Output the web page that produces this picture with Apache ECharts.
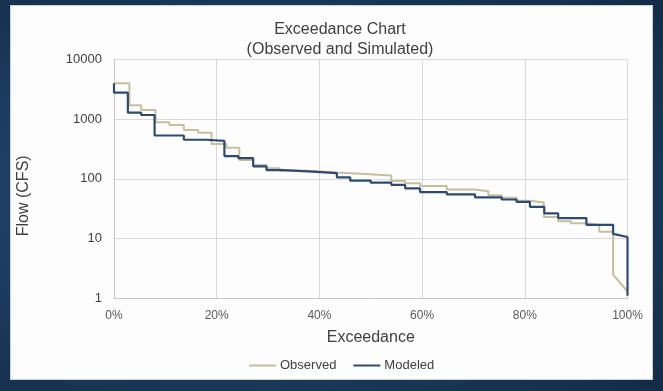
<!DOCTYPE html>
<html>
<head>
<meta charset="utf-8">
<script src="https://cdn.jsdelivr.net/npm/echarts@6/dist/echarts.min.js"></script>
<style>
  html, body { margin: 0; padding: 0; }
  body {
    width: 663px; height: 391px; overflow: hidden; position: relative;
    background: radial-gradient(ellipse at 40% 50%, #2a4d72 0%, #1d3c5e 55%, #132b47 100%);
  }
  #panel {
    position: absolute; left: 10px; top: 5px; width: 641px; height: 373px;
    background: #fdfdfd; border: 1px solid #c9d2dc;
  }
  #chart { position: absolute; left: 0; top: 0; width: 663px; height: 391px; }
</style>
</head>
<body>
<div id="panel"></div>
<div id="chart"></div>
<script>
// Flow-duration (exceedance) curves: each series is a run of flat segments.
// Segment edges are exceedance percentages; levels are flows in CFS.
const obsEdges  = [0, 3.0, 5.3, 8.1, 10.8, 13.6, 16.4, 19.0, 21.9, 24.4, 27.1, 29.7, 32.3, 37.8, 43.4, 48, 54, 56.7, 59.6, 64.8, 70.3, 72.9, 75.5, 78.4, 81, 83.7, 86.5, 89, 92, 94.5, 97.2];
const obsLevels = [3960, 1700, 1415, 883, 794, 656, 591, 382, 331, 207, 170, 150, 137, 128, 122, 114, 92, 84, 76, 66, 62, 53, 48, 43, 40, 23, 19.5, 18, 16.9, 13];
const obsTail   = [[97.2, 2.5], [100, 1.3]];

const modHead   = [[0, 3960]];
const modEdges  = [0, 2.7, 5.3, 7.9, 13.6, 18, 21.5, 24.2, 27.1, 29.7, 33, 37.8, 43.4, 46, 50, 54, 56.7, 59.6, 64.8, 70.3, 75.5, 78.4, 81, 83.8, 86.5, 92, 97.2];
const modLevels = [2760, 1277, 1170, 530, 450, 430, 240, 222, 162, 140, 133, 124, 106, 93, 86, 79, 69, 60, 55, 49, 45, 41, 34, 26.3, 22, 17];
const modTail   = [[97.2, 12], [100, 10.6], [100, 1.1]];

const xTicks = [0, 20, 40, 60, 80, 100];
const yTicks = [1, 10, 100, 1000, 10000];

function buildSteps(edges, levels, head, tail) {
  const pts = head.slice();
  for (let i = 0; i < levels.length; i++) {
    pts.push([edges[i], levels[i]]);
    pts.push([edges[i + 1], levels[i]]);
  }
  return pts.concat(tail);
}

const font = 'Liberation Sans, Arial, sans-serif';
const chart = echarts.init(document.getElementById('chart'), null, { renderer: 'canvas' });
chart.setOption({
  animation: false,
  backgroundColor: 'transparent',
  textStyle: { fontFamily: font },
  title: {
    text: 'Exceedance Chart\n(Observed and Simulated)',
    left: 335, top: 15, textAlign: 'center',
    textStyle: { fontSize: 16, fontWeight: 'normal', color: '#404040', lineHeight: 20, fontFamily: font }
  },
  legend: {
    left: 244, top: 354,
    icon: 'rect',
    itemWidth: 27, itemHeight: 2, itemGap: 17,
    textStyle: { fontSize: 13, color: '#404040', fontFamily: font, padding: [0, 0, 0, -1] },
    data: ['Observed', 'Modeled']
  },
  grid: { left: 114, right: 35.5, top: 59.3, bottom: 92.7, containLabel: false },
  xAxis: {
    type: 'value', min: xTicks[0], max: xTicks[xTicks.length - 1], interval: 20,
    name: 'Exceedance', nameLocation: 'middle', nameGap: 31,
    nameTextStyle: { fontSize: 16, color: '#404040', fontFamily: font },
    axisLine: { show: true, lineStyle: { color: '#c8c8c8', width: 1 } },
    axisTick: { show: false },
    axisLabel: { fontSize: 12, color: '#595959', margin: 11, formatter: v => v + '%' },
    splitLine: { show: true, lineStyle: { color: '#d9d9d9', width: 1 } }
  },
  yAxis: {
    type: 'log', logBase: 10, min: yTicks[0], max: yTicks[yTicks.length - 1],
    name: 'Flow (CFS)', nameLocation: 'middle', nameGap: 82,
    nameTextStyle: { fontSize: 16, color: '#404040', fontFamily: font, padding: [0, 34, 0, 0] },
    axisLine: { show: true, lineStyle: { color: '#c8c8c8', width: 1 } },
    axisTick: { show: false },
    axisLabel: { fontSize: 13, color: '#404040', margin: 12, formatter: v => String(Math.round(v)) },
    splitLine: { show: true, lineStyle: { color: '#d9d9d9', width: 1 } }
  },
  series: [
    {
      name: 'Observed', type: 'line', symbol: 'none', showSymbol: false,
      data: buildSteps(obsEdges, obsLevels, [], obsTail),
      lineStyle: { color: '#c6bf9c', width: 2 },
      itemStyle: { color: '#c6bf9c' },
      z: 2
    },
    {
      name: 'Modeled', type: 'line', symbol: 'none', showSymbol: false,
      data: buildSteps(modEdges, modLevels, modHead, modTail),
      lineStyle: { color: '#2d4b72', width: 2.2 },
      itemStyle: { color: '#2d4b72' },
      z: 3
    }
  ]
});
</script>
</body>
</html>
